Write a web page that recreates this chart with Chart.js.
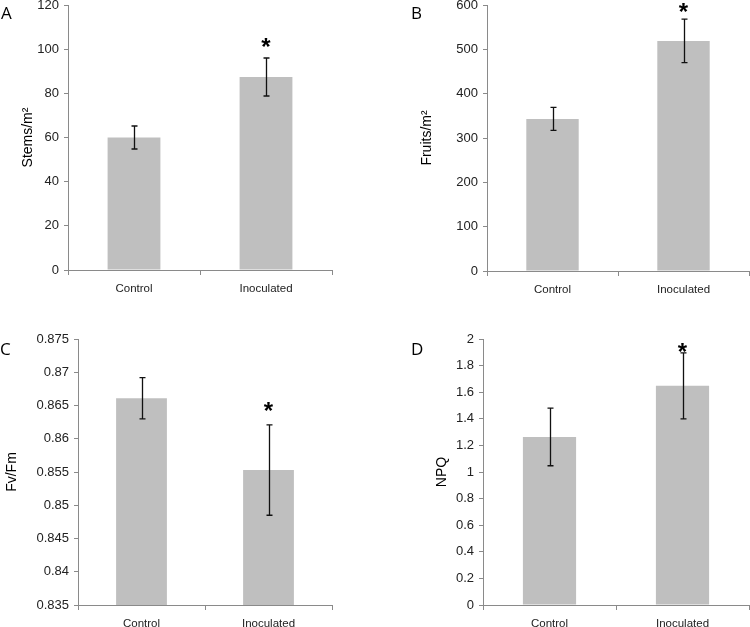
<!DOCTYPE html>
<html>
<head>
<meta charset="utf-8">
<script src="https://cdn.jsdelivr.net/npm/chart.js@4"></script>
<style>
body{margin:0;background:#fff;width:750px;height:627px;position:relative;overflow:hidden}
canvas{position:absolute}
.letter{position:absolute;font-family:"Open Sans",sans-serif;font-size:17px;color:#000;line-height:1}
</style>
</head>
<body>
<canvas id="chartA" width="375" height="310" style="left:0;top:0"></canvas>
<canvas id="chartB" width="375" height="310" style="left:375px;top:0"></canvas>
<canvas id="chartC" width="375" height="317" style="left:0;top:310px"></canvas>
<canvas id="chartD" width="375" height="317" style="left:375px;top:310px"></canvas>
<div class="letter" style="left:1px;top:4px">A</div>
<div class="letter" style="left:411px;top:4px">B</div>
<div class="letter" style="left:0px;top:340px">C</div>
<div class="letter" style="left:411px;top:340px">D</div>
<script>
const categories = ["Control", "Inoculated"]

const stems = [60, 87.4]
const stemsErr = [5.2, 8.6]
const stemsStar = [null, 103]
const stemsTicks = [0, 20, 40, 60, 80, 100, 120]

const fruits = [343, 519]
const fruitsErr = [26, 49]
const fruitsStar = [null, 595]
const fruitsTicks = [0, 100, 200, 300, 400, 500, 600]

const fvfm = [0.8661, 0.8553]
const fvfmErr = [0.0031, 0.0068]
const fvfmStar = [null, 0.8648]
const fvfmTicks = [0.835, 0.84, 0.845, 0.85, 0.855, 0.86, 0.865, 0.87, 0.875]

const npq = [1.264, 1.648]
const npqErr = [0.217, 0.248]
const npqStar = [null, 1.935]
const npqTicks = [0, 0.2, 0.4, 0.6, 0.8, 1, 1.2, 1.4, 1.6, 1.8, 2]


// error bars + significance star, drawn after the bars
const errorBars = {
    id: "errorBars",
    afterDatasetsDraw(chart, args, opts){
        const ctx = chart.ctx
        const yScale = chart.scales.y
        const meta = chart.getDatasetMeta(0)
        const values = chart.data.datasets[0].data
        ctx.save()
        ctx.strokeStyle = "#111"
        ctx.lineWidth = 1.3
        meta.data.forEach((bar, i) => {
            const x = Math.round(bar.x) + 0.5
            const top = yScale.getPixelForValue(values[i] + opts.errors[i])
            const bot = yScale.getPixelForValue(values[i] - opts.errors[i])
            ctx.beginPath()
            ctx.moveTo(x, top); ctx.lineTo(x, bot)
            ctx.moveTo(x - 3, top); ctx.lineTo(x + 3, top)
            ctx.moveTo(x - 3, bot); ctx.lineTo(x + 3, bot)
            ctx.stroke()
            const s = opts.stars[i]
            if(s != null){
                ctx.font = "bold 24px 'Liberation Sans'"
                ctx.fillStyle = "#000"
                ctx.textAlign = "center"
                ctx.textBaseline = "alphabetic"
                const m = ctx.measureText("*")
                const yc = yScale.getPixelForValue(s)
                const base = yc + (m.actualBoundingBoxAscent - m.actualBoundingBoxDescent) / 2
                ctx.fillText("*", bar.x, base)
            }
        })
        ctx.restore()
    }
}


function makeChart(id, values, errs, stars, ticks, title, g){

    const axisColor = "#8a8a8a"
    const tickFont = {family: "'Liberation Sans', Arial, sans-serif", size: 13}

    return new Chart(document.getElementById(id), {
        type: "bar",
        data: {
            labels: categories,
            datasets: [{
                data: values,
                backgroundColor: "#bfbfbf",
                borderWidth: 0,
                categoryPercentage: 1,
                barPercentage: 0.4
            }]
        },
        options: {
            responsive: false,
            animation: false,
            events: [],
            layout: {padding: {top: g.top, right: g.right, left: 0, bottom: 0}},
            plugins: {
                legend: {display: false},
                tooltip: {enabled: false},
                errorBars: {errors: errs, stars: stars}
            },
            scales: {
                x: {
                    grid: {drawOnChartArea: false, offset: true, tickLength: 5, color: axisColor},
                    border: {color: axisColor},
                    ticks: {font: {family: tickFont.family, size: 11.5}, color: "#222", padding: 7},
                    afterFit(axis){ axis.height = g.xh; axis.paddingLeft = 0; axis.paddingRight = 0 }
                },
                y: {
                    min: ticks[0],
                    max: ticks[ticks.length - 1],
                    afterBuildTicks(axis){ axis.ticks = ticks.map(v => ({value: v})) },
                    grid: {drawOnChartArea: false, tickLength: 4, color: axisColor},
                    border: {color: axisColor},
                    ticks: {font: tickFont, color: "#222", padding: 5, callback: v => String(v)},
                    title: {
                        display: true,
                        text: title,
                        color: "#000",
                        font: {family: tickFont.family, size: 14},
                        padding: {top: g.titlePad, bottom: 0}
                    },
                    afterFit(axis){ axis.width = g.left; axis.paddingTop = 0; axis.paddingBottom = 0 }
                }
            }
        },
        plugins: [errorBars]
    })
}


makeChart("chartA", stems, stemsErr, stemsStar, stemsTicks, "Stems/m²",
    {left: 68, top: 5, right: 43, xh: 40, titlePad: 20})
makeChart("chartB", fruits, fruitsErr, fruitsStar, fruitsTicks, "Fruits/m²",
    {left: 112, top: 5, right: 1, xh: 39, titlePad: 44})
makeChart("chartC", fvfm, fvfmErr, fvfmStar, fvfmTicks, "Fv/Fm",
    {left: 78, top: 29, right: 43, xh: 22, titlePad: 4})
makeChart("chartD", npq, npqErr, npqStar, npqTicks, "NPQ",
    {left: 108, top: 29, right: 1, xh: 22, titlePad: 59})
</script>
</body>
</html>
